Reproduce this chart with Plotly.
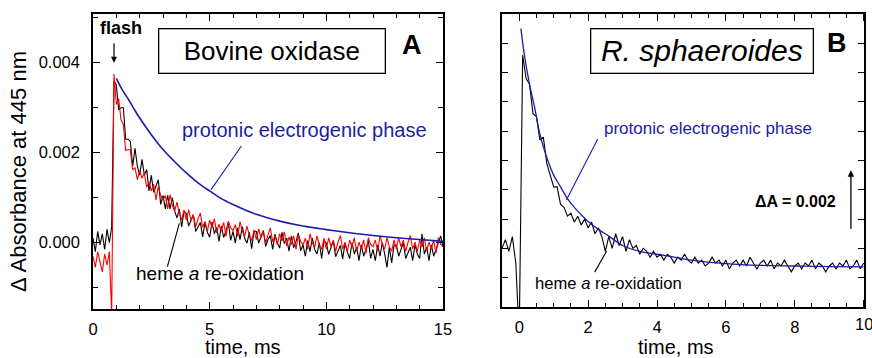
import numpy as np
import plotly.graph_objects as go

# ---------------- data ----------------
# Panel A (bovine oxidase), time grid in ms
t_left = np.round(np.arange(0, 15.0001, 0.1), 2)
bovine_black = [
    0.00010, -0.00020, 0.00025, -0.00005, 0.00020, -0.00015, 0.00030, 0.00000, 0.00035, 0.00360,
    0.00350, 0.00295, 0.00300, 0.00300, 0.00230, 0.00230, 0.00225, 0.00170, 0.00210, 0.00170,
    0.00150, 0.00185, 0.00150, 0.00163, 0.00115, 0.00150, 0.00112, 0.00127, 0.00140, 0.00085,
    0.00105, 0.00075, 0.00105, 0.00075, 0.00100, 0.00070, 0.00055, 0.00075, 0.00035, 0.00070,
    0.00065, 0.00037, 0.00050, 0.00062, 0.00025, 0.00037, 0.00045, 0.00013, 0.00045, 0.00023,
    0.00012, 0.00046, 0.00020, 0.00034, 0.00003, 0.00037, 0.00012, 0.00026, 0.00045, 0.00005,
    0.00025, -0.00001, 0.00033, 0.00007, 0.00036, 0.00010, -0.00001, 0.00023, -0.00013, 0.00026,
    0.00025, -0.00001, 0.00013, 0.00027, -0.00008, 0.00007, 0.00016, -0.00015, 0.00019, -0.00001,
    -0.00012, 0.00023, -0.00002, 0.00010, -0.00019, 0.00015, -0.00011, 0.00003, 0.00022, -0.00018,
    -0.00005, -0.00030, 0.00005, -0.00020, 0.00010, -0.00015, -0.00025, 0.00000, -0.00035, 0.00005,
    -0.00001, -0.00026, -0.00011, 0.00004, -0.00031, -0.00016, -0.00006, -0.00036, -0.00001, -0.00021,
    -0.00035, 0.00000, -0.00025, -0.00010, -0.00040, -0.00005, -0.00030, -0.00015, 0.00005, -0.00035,
    -0.00015, -0.00040, -0.00005, -0.00030, 0.00000, -0.00025, -0.00055, -0.00010, -0.00045, -0.00005,
    -0.00005, -0.00030, -0.00015, 0.00000, -0.00035, -0.00020, -0.00010, -0.00040, -0.00005, -0.00025,
    -0.00035, 0.00020, -0.00025, -0.00010, -0.00040, -0.00005, -0.00030, -0.00015, 0.00000, 0.00015,
    -0.00010,
]
bovine_red = [
    -0.00030, -0.00055, -0.00020, -0.00045, -0.00065, -0.00025, -0.00050, -0.00020, -0.00160, 0.00375,
    0.00307, 0.00320, 0.00273, 0.00263, 0.00205, 0.00207, 0.00206, 0.00162, 0.00167, 0.00140,
    0.00160, 0.00143, 0.00155, 0.00123, 0.00135, 0.00115, 0.00130, 0.00095, 0.00125, 0.00105,
    0.00095, 0.00105, 0.00075, 0.00107, 0.00083, 0.00070, 0.00090, 0.00065, 0.00051, 0.00073,
    0.00050, 0.00073, 0.00050, 0.00062, 0.00035, 0.00053, 0.00066, 0.00034, 0.00047, 0.00025,
    0.00050, 0.00034, 0.00053, 0.00022, 0.00041, 0.00026, 0.00045, 0.00014, 0.00048, 0.00033,
    0.00027, 0.00040, 0.00014, 0.00047, 0.00026, 0.00014, 0.00037, 0.00016, 0.00005, 0.00028,
    0.00007, 0.00031, 0.00011, 0.00025, -0.00001, 0.00018, 0.00033, 0.00002, 0.00016, -0.00005,
    0.00020, 0.00004, 0.00024, -0.00007, 0.00013, -0.00004, 0.00015, -0.00015, 0.00018, 0.00003,
    -0.00005, 0.00010, -0.00015, 0.00020, 0.00000, -0.00010, 0.00015, -0.00005, -0.00015, 0.00010,
    -0.00014, 0.00011, -0.00009, 0.00006, -0.00019, 0.00001, 0.00016, -0.00014, 0.00001, -0.00019,
    0.00006, -0.00009, 0.00011, -0.00019, 0.00001, -0.00014, 0.00006, -0.00024, 0.00011, -0.00004,
    -0.00009, 0.00006, -0.00019, 0.00016, -0.00004, -0.00014, 0.00011, -0.00009, -0.00019, 0.00006,
    -0.00014, 0.00011, -0.00009, 0.00006, -0.00019, 0.00001, 0.00016, -0.00014, 0.00001, -0.00019,
    0.00006, -0.00009, 0.00011, -0.00019, 0.00001, -0.00014, 0.00006, -0.00024, 0.00011, -0.00004,
    -0.00008,
]
t_left_fit = [1.0, 1.25, 1.5, 1.75, 2.0, 2.5, 3.0, 3.5, 4.0, 4.5, 5.0, 5.5, 6.0, 7.0, 8.0,
              9.0, 10.0, 11.0, 12.0, 13.0, 14.0, 15.0]
bovine_fit = [0.00365, 0.00340, 0.00320, 0.00298, 0.00277, 0.00240, 0.00207, 0.00180, 0.00155,
              0.00133, 0.00115, 0.00098, 0.00085, 0.00063, 0.00048, 0.00037, 0.00029, 0.00022,
              0.00016, 0.00011, 0.00007, 0.00003]

# Panel B (R. sphaeroides)
t_right = np.round(np.arange(-0.5, 10.0001, 0.1), 2)
rsph_black = [
    0.0000, 0.0003, -0.0001, 0.0004, -0.0005, -0.0030, 0.0066, 0.0058, 0.0056, 0.0046,
    0.0045, 0.0037, 0.0038, 0.0029, 0.0025, 0.0021, 0.0021, 0.0015, 0.0014, 0.0011,
    0.0012, 0.0009, 0.0011, 0.0008, 0.0010, 0.0007, 0.0009, 0.0005, 0.0007, 0.0004,
    -0.0001, 0.0004, 0.0000, 0.0005, 0.0001, 0.0004, -0.0001, 0.0003, 0.0000, 0.0001,
    -0.0002, 0.0000, -0.0001, -0.0003, -0.0001, -0.0003, -0.0002, -0.0004, -0.0002, -0.0003,
    -0.0005, -0.0003, -0.0004, -0.0002, -0.0004, -0.0005, -0.0003, -0.0005, -0.0004, -0.0006,
    -0.0005, -0.0003, -0.0005, -0.0004, -0.0006, -0.0004, -0.0007, -0.0005, -0.0004, -0.0006,
    -0.0004, -0.0006, -0.0003, -0.0005, -0.0007, -0.0005, -0.0004, -0.0006, -0.0004, -0.0007,
    -0.0005, -0.0006, -0.0004, -0.0006, -0.0008, -0.0006, -0.0005, -0.0007, -0.0005, -0.0006,
    -0.0004, -0.0007, -0.0005, -0.0006, -0.0008, -0.0006, -0.0005, -0.0007, -0.0005, -0.0006,
    -0.0004, -0.0007, -0.0006, -0.0004, -0.0007, -0.0005,
]
t_right_fit = [0.05, 0.15, 0.3, 0.45, 0.6, 0.8, 1.0, 1.2, 1.4, 1.6, 1.8, 2.0, 2.3, 2.6, 3.0,
               3.5, 4.0, 4.5, 5.0, 6.0, 7.0, 8.0, 9.0, 10.0]
rsph_fit = [0.0075, 0.0066, 0.0056, 0.0048, 0.0039, 0.0031, 0.0025, 0.0021, 0.0017, 0.0014,
            0.00115, 0.00092, 0.00065, 0.00042, 0.0001, -0.0001, -0.0002, -0.0003, -0.0004,
            -0.00052, -0.00058, -0.0006, -0.00062, -0.00063]

left_xticks = [0, 5, 10, 15]
right_xticks = [0, 2, 4, 6, 8, 10]
right_xticklabels = ['0', '2', '4', '6', '8', '10']

# ---------------- figure ----------------
W, H = 872, 358
BLUE = '#1c1ca8'
FONT = 'Arial'
TICKSIZE = 16.5


def px(x):
    return x / W


def py(y):
    return 1 - y / H


fig = go.Figure()
fig.add_trace(go.Scatter(x=t_left, y=bovine_black, mode='lines',
                         line=dict(color='black', width=1.1), xaxis='x', yaxis='y'))
fig.add_trace(go.Scatter(x=t_left, y=bovine_red, mode='lines',
                         line=dict(color='#ff0000', width=1.1), xaxis='x', yaxis='y'))
fig.add_trace(go.Scatter(x=t_left_fit, y=bovine_fit, mode='lines',
                         line=dict(color=BLUE, width=1.6, shape='spline'), xaxis='x', yaxis='y'))
fig.add_trace(go.Scatter(x=t_right, y=rsph_black, mode='lines',
                         line=dict(color='black', width=1.1), xaxis='x2', yaxis='y2'))
fig.add_trace(go.Scatter(x=t_right_fit, y=rsph_fit, mode='lines',
                         line=dict(color=BLUE, width=1.3, shape='spline'), xaxis='x2', yaxis='y2'))

common = dict(showline=True, linecolor='black', linewidth=1.5, mirror='ticks',
              ticks='inside', tickcolor='black', tickwidth=1.3, showgrid=False,
              zeroline=False, automargin=False,
              tickfont=dict(family=FONT, size=TICKSIZE, color='black'))

fig.update_layout(
    width=W, height=H, margin=dict(l=0, r=0, t=0, b=0),
    paper_bgcolor='white', plot_bgcolor='white', showlegend=False,
    xaxis=dict(domain=[px(93), px(443)], range=[0, 15], tickmode='array',
               tickvals=left_xticks, ticklen=7, anchor='y', ticklabelstandoff=4,
               minor=dict(dtick=1, tick0=0, ticks='inside', ticklen=4, tickwidth=1,
                          tickcolor='black'), **common),
    yaxis=dict(domain=[py(309), py(14)], range=[-0.001473, 0.005082], dtick=0.002,
               tick0=0, tickformat='.3f', ticklen=7, anchor='x', ticklabelstandoff=8,
               minor=dict(dtick=0.001, tick0=0, ticks='inside', ticklen=5, tickwidth=1,
                          tickcolor='black'), **common),
    xaxis2=dict(domain=[px(502), px(864)], range=[-0.5, 10.01], tickmode='array',
                tickvals=right_xticks[:-1], ticktext=right_xticklabels[:-1], ticklen=7,
                anchor='y2', ticklabelstandoff=4,
                minor=dict(dtick=0.5, tick0=0, ticks='inside', ticklen=4, tickwidth=1,
                           tickcolor='black'), **common),
    yaxis2=dict(domain=[py(307), py(14)], range=[-0.002, 0.008], dtick=0.001, tick0=0,
                ticklen=6, showticklabels=False, anchor='x2', **common),
)

# last major tick of panel B (its label runs off the page edge, so it is drawn as text)
fig.add_shape(type='line', xref='x2', yref='paper', x0=right_xticks[-1], x1=right_xticks[-1],
              y0=py(307), y1=py(300), line=dict(color='black', width=1.3))
fig.add_shape(type='line', xref='x2', yref='paper', x0=right_xticks[-1], x1=right_xticks[-1],
              y0=py(14), y1=py(21), line=dict(color='black', width=1.3))
fig.add_annotation(text=right_xticklabels[-1], x=right_xticks[-1], xref='x2', y=py(324),
                   yref='paper', showarrow=False, xanchor='center', yanchor='middle',
                   font=dict(family=FONT, size=TICKSIZE, color='black'))


def label(text, x, y, size, color='black', **kw):
    fig.add_annotation(text=text, x=px(x), y=py(y), xref='paper', yref='paper',
                       showarrow=False, xanchor='center', yanchor='middle',
                       font=dict(family=FONT, size=size, color=color), **kw)


# boxed titles
label('Bovine oxidase', 271.5, 51.5, 26, bordercolor='black', borderwidth=1.3,
      borderpad=1, width=223, height=41)
label('<i>R. sphaeroides</i>', 702, 51.5, 30, bordercolor='black', borderwidth=1.3,
      borderpad=1, width=219, height=41)
label('<b>A</b>', 412, 45, 27)
label('<b>B</b>', 836.7, 43, 27)
label('<b>flash</b>', 121, 28, 18)
label('protonic electrogenic phase', 304, 130, 20, color=BLUE)
label('protonic electrogenic phase', 707.5, 128, 17, color=BLUE)
label('heme <i>a</i> re-oxidation', 220, 273, 19)
label('heme <i>a</i> re-oxidation', 608.3, 283, 16.6)
label('<b>ΔA = 0.002</b>', 795.5, 201.7, 16)
label('time, ms', 242.5, 347, 20)
label('time, ms', 676, 347, 20)
label('Δ Absorbance at 445 nm', 18, 172, 22, textangle=-90)

# flash arrow (left) and scale arrow (right)
fig.add_annotation(x=0.9, y=0.0040, xref='x', yref='y', ax=0, ay=-21, text='',
                   showarrow=True, arrowhead=2, arrowsize=1, arrowwidth=1.2,
                   arrowcolor='black')
fig.add_annotation(x=9.63, y=0.00267, xref='x2', yref='y2', ax=9.63, ay=0.00062,
                   axref='x2', ayref='y2', text='', showarrow=True, arrowhead=2,
                   arrowsize=1, arrowwidth=1.3, arrowcolor='black')

# leader lines
fig.add_shape(type='line', xref='x', yref='y', x0=5.06, y0=0.00118, x1=6.36, y1=0.00215,
              line=dict(color=BLUE, width=1.1))
fig.add_shape(type='line', xref='x', yref='y', x0=3.19, y0=-0.00053, x1=3.70, y1=0.00043,
              line=dict(color='black', width=1.1))
fig.add_shape(type='line', xref='x2', yref='y2', x0=2.28, y0=0.00373, x1=1.37, y1=0.00165,
              line=dict(color=BLUE, width=1.1))
fig.add_shape(type='line', xref='x2', yref='y2', x0=2.19, y0=-0.00081, x1=2.54, y1=-0.00009,
              line=dict(color='black', width=1.1))

fig.update_traces(showlegend=False, hoverinfo='skip')
fig.write_html('out.html', config={'displayModeBar': False},
               post_script="document.body.style.margin='0';")
